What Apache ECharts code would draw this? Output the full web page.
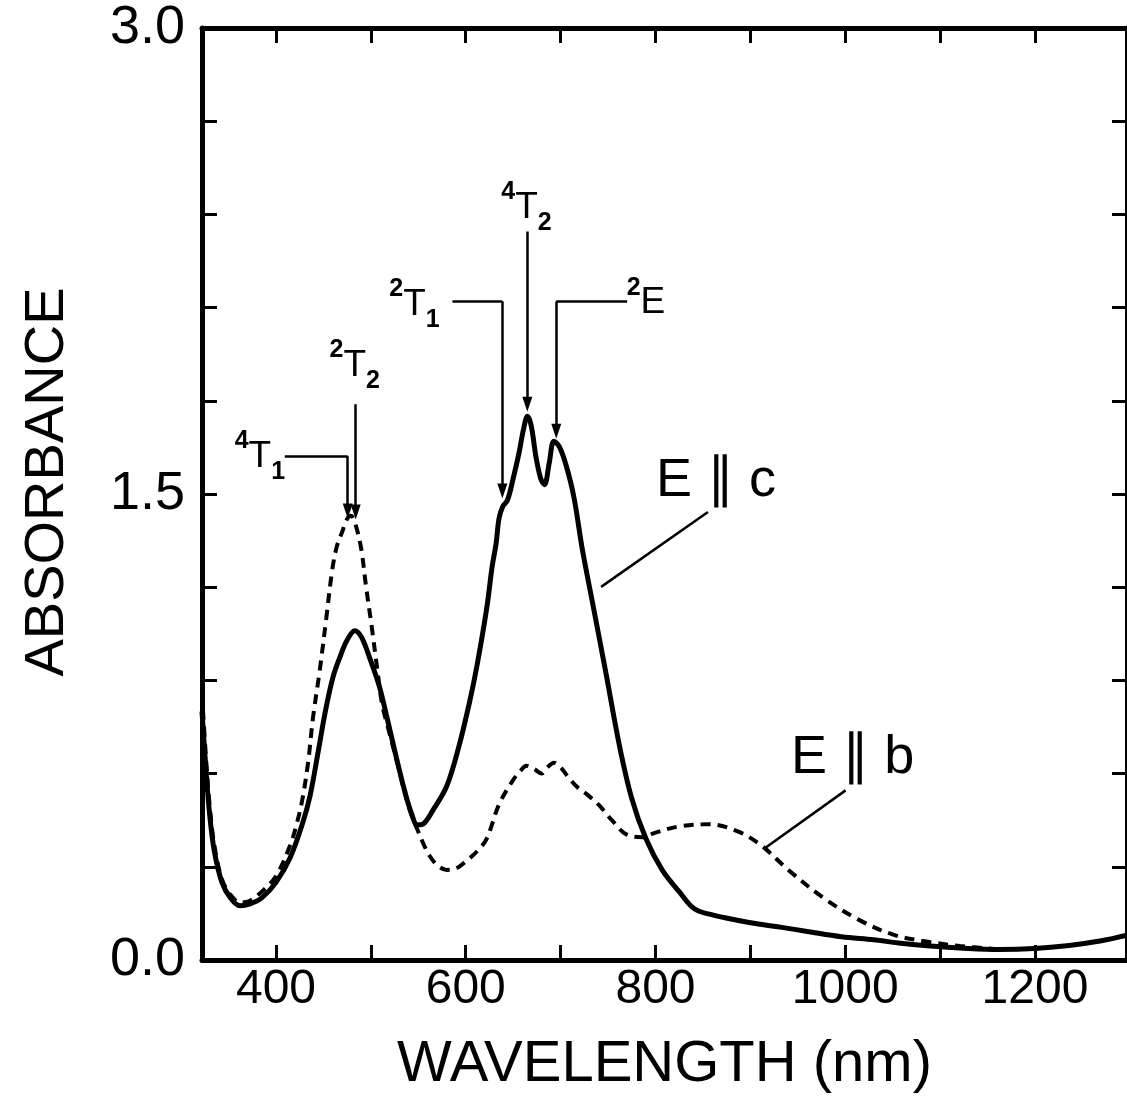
<!DOCTYPE html>
<html>
<head>
<meta charset="utf-8">
<title>Absorbance E||c / E||b</title>
<script src="https://cdn.jsdelivr.net/npm/echarts@6/dist/echarts.min.js"></script>
<style>
  html, body { margin: 0; padding: 0; background: #fff; }
  #chart { width: 1127px; height: 1099px; }
</style>
</head>
<body>
<div id="chart"></div>
<script>
// E || c  (solid curve)
const waveC = [322, 326, 330, 335, 343, 352, 362, 372, 385, 400, 415, 428, 436, 445, 452, 460, 468, 475, 483,
  490, 499, 509, 517, 527, 536, 543, 549, 556, 565, 580, 593, 604, 612, 622, 628, 632, 635, 639, 644, 650,
  656, 661, 665, 669, 674, 679, 683, 688, 693, 699, 706, 714, 723, 733, 748, 762, 775, 790, 807, 825, 841,
  860, 886, 910, 933, 960, 996, 1030, 1056, 1090, 1125, 1162, 1199, 1236, 1270, 1297]
const absC = [0.80, 0.62, 0.47, 0.35, 0.25, 0.20, 0.175, 0.18, 0.20, 0.25, 0.33, 0.44, 0.53, 0.68, 0.80, 0.91, 0.98, 1.03, 1.06,
  1.04, 0.97, 0.88, 0.78, 0.65, 0.54, 0.47, 0.435, 0.44, 0.48, 0.56, 0.69, 0.83, 0.95, 1.13, 1.27, 1.34, 1.42, 1.46, 1.48, 1.55,
  1.63, 1.71, 1.75, 1.72, 1.62, 1.55, 1.53, 1.60, 1.67, 1.65, 1.59, 1.49, 1.32, 1.16, 0.92, 0.69, 0.52, 0.39, 0.29, 0.22, 0.165,
  0.145, 0.128, 0.115, 0.105, 0.092, 0.075, 0.065, 0.055, 0.045, 0.038, 0.034, 0.037, 0.047, 0.062, 0.08]

// E || b  (dashed curve)
const waveB = [322, 326, 330, 335, 343, 352, 362, 372, 385, 400, 415, 422, 428, 434, 439, 446, 453, 459, 464, 470,
  475, 479, 484, 490, 495, 501, 507, 512, 517, 527, 536, 543, 549, 556, 562, 570, 580, 590, 601, 612, 622, 635,
  649, 658, 664, 672, 680, 686, 693, 700, 709, 718, 727, 740, 754, 769, 786, 800, 825, 856, 886, 911, 940, 977,
  1014, 1052, 1089, 1121, 1160]
const absB = [0.86, 0.66, 0.50, 0.37, 0.26, 0.21, 0.185, 0.19, 0.22, 0.27, 0.37, 0.44, 0.52, 0.64, 0.78, 0.93, 1.10, 1.25, 1.33, 1.38,
  1.42, 1.43, 1.40, 1.32, 1.20, 1.07, 0.93, 0.82, 0.76, 0.645, 0.535, 0.465, 0.42, 0.37, 0.335, 0.305, 0.29, 0.295, 0.32, 0.35, 0.39, 0.50,
  0.575, 0.61, 0.625, 0.615, 0.60, 0.62, 0.635, 0.62, 0.585, 0.555, 0.535, 0.50, 0.45, 0.405, 0.395, 0.41, 0.43, 0.437, 0.415, 0.37, 0.29, 0.20,
  0.13, 0.08, 0.058, 0.045, 0.035]

// axis ticks / labels
const xTicks = [400, 500, 600, 700, 800, 900, 1000, 1100, 1200]
const xLabels = [400, 600, 800, 1000, 1200]
const yLabels = [0, 1.5, 3.0]

// transition labels: superscript, letter, subscript, anchor [nm, absorbance]
const stateSup = ['4', '2', '2', '4', '2']
const stateLetter = ['T', 'T', 'T', 'T', 'E']
const stateSub = ['1', '2', '1', '2', '']
const stateAt = [[383, 1.619], [483, 1.914], [546, 2.11], [664, 2.422], [790, 2.114]]

// arrows / leader lines [from, to] in data coords
const arrows = [
  [[475.6, 1.622], [475.6, 1.445]],
  [[484, 1.789], [484, 1.442]],
  [[638.6, 2.12], [638.6, 1.51]],
  [[664.9, 2.345], [664.9, 1.789]],
  [[695.4, 2.12], [695.4, 1.702]]
]
const leaders = [
  [[409.3, 1.622], [475.6, 1.622]],
  [[586, 2.12], [638.6, 2.12]],
  [[770.1, 2.12], [695.4, 2.12]],
  [[855.3, 1.442], [742.7, 1.201]],
  [[1000.4, 0.546], [915.2, 0.36]]
]
const curveNames = ['E \u2225 c', 'E \u2225 b']
const curveNameAt = [[863.7, 1.542], [1007.8, 0.649]]

const FONT = "'Liberation Sans', Arial, sans-serif"

let chart = echarts.init(document.getElementById('chart'), null, {renderer: 'canvas'})

const toPairs = (xs, ys) => xs.map((x, i) => [x, ys[i]])

const baseX = {
  type: 'value',
  min: 322,
  max: 1297,
  splitLine: {show: false},
  axisLine: {onZero: false, lineStyle: {color: '#000', width: 5}},
  axisTick: {inside: true, length: 15, customValues: xTicks, lineStyle: {color: '#000', width: 3}}
}
const baseY = {
  type: 'value',
  min: 0,
  max: 3,
  interval: 0.3,
  splitLine: {show: false},
  axisLine: {onZero: false, lineStyle: {color: '#000', width: 5}},
  axisTick: {inside: true, length: 15, lineStyle: {color: '#000', width: 3}}
}

let stateData = stateAt.map((p, i) => ({
  value: p,
  label: {
    formatter: '{sup|' + stateSup[i] + '}{t|' + stateLetter[i] + '}' + (stateSub[i] ? '{sub|' + stateSub[i] + '}' : '')
  }
}))
let nameData = curveNameAt.map((p, i) => ({
  value: p,
  label: {formatter: curveNames[i]}
}))

let lineData = arrows.map(a => [
  {coord: a[0], symbol: 'none'},
  {coord: a[1], symbol: 'triangle', symbolSize: [10, 15], symbolRotate: 180}
]).concat(leaders.map(a => [
  {coord: a[0], symbol: 'none'},
  {coord: a[1], symbol: 'none'}
]))

let option = {
  animation: false,
  backgroundColor: '#fff',
  grid: {left: 202, right: -2, top: 28, bottom: 137, containLabel: false},
  xAxis: [
    Object.assign({}, baseX, {
      position: 'bottom',
      axisLabel: {customValues: xLabels, fontSize: 48, color: '#000', fontFamily: FONT, margin: 6,
        formatter: v => String(v)},
      name: 'WAVELENGTH (nm)',
      nameLocation: 'middle',
      nameGap: 76,
      nameTextStyle: {fontSize: 58, color: '#000', fontFamily: FONT}
    }),
    Object.assign({}, baseX, {position: 'top', axisLabel: {show: false}})
  ],
  yAxis: [
    Object.assign({}, baseY, {
      position: 'left',
      axisLabel: {
        customValues: yLabels, fontSize: 54, color: '#000', fontFamily: FONT, margin: 17,
        formatter: v => v.toFixed(1)
      },
      name: 'ABSORBANCE',
      nameLocation: 'middle',
      nameRotate: 90,
      nameGap: 126,
      nameTextStyle: {fontSize: 56, color: '#000', fontFamily: FONT, padding: [0, 0, 0, 24]}
    }),
    Object.assign({}, baseY, {position: 'right', axisLabel: {show: false}})
  ],
  series: [
    {
      name: 'E || b',
      type: 'line',
      data: toPairs(waveB, absB),
      showSymbol: false,
      smooth: 0.35,
      lineStyle: {color: '#000', width: 4, type: [10, 7]},
      silent: true
    },
    {
      name: 'E || c',
      type: 'line',
      data: toPairs(waveC, absC),
      showSymbol: false,
      smooth: 0.35,
      lineStyle: {color: '#000', width: 5},
      silent: true
    },
    {
      name: 'states',
      type: 'scatter',
      symbolSize: 0,
      silent: true,
      itemStyle: {opacity: 1, color: '#000'},
      data: stateData,
      label: {
        show: true,
        position: 'inside',
        color: '#000',
        fontFamily: FONT,
        rich: {
          sup: {fontSize: 25, fontWeight: 'bold', verticalAlign: 'top', lineHeight: 14, fontFamily: FONT, color: '#000'},
          t: {fontSize: 37, lineHeight: 56, verticalAlign: 'middle', fontFamily: FONT, color: '#000'},
          sub: {fontSize: 25, fontWeight: 'bold', verticalAlign: 'bottom', lineHeight: 30, fontFamily: FONT, color: '#000'}
        }
      },
      markLine: {
        silent: true,
        animation: false,
        symbol: ['none', 'none'],
        label: {show: false},
        lineStyle: {color: '#000', width: 2.5, type: 'solid', opacity: 1},
        emphasis: {disabled: true},
        data: lineData
      }
    },
    {
      name: 'curve names',
      type: 'scatter',
      symbolSize: 0,
      silent: true,
      itemStyle: {opacity: 1, color: '#000'},
      data: nameData,
      label: {show: true, position: 'inside', fontSize: 54, fontFamily: FONT, color: '#000'}
    }
  ]
}

chart.setOption(option)
</script>
</body>
</html>
